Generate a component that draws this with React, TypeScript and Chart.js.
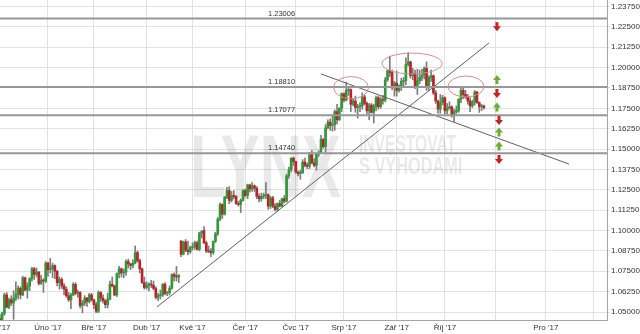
import React, { useEffect, useRef } from "react";
import { Chart, registerables } from "chart.js";

Chart.register(...registerables);

const FONT = "Arial, 'Liberation Sans', sans-serif";

// x axis: weekday (trading-day) index counted from Mon 2 Jan 2017
const monthStarts = [0, 22, 42, 65, 85, 108, 130, 151, 174, 195, 217, 239, 260];
const monthLabels = ["Led '17", "Úno '17", "Bře '17", "Dub '17", "Kvě '17", "Čer '17", "Čvc '17", "Srp '17", "Zář '17", "Říj '17", "", "Pro '17", ""];
const yTicks = [1.05, 1.0625, 1.075, 1.0875, 1.1, 1.1125, 1.125, 1.1375, 1.15, 1.1625, 1.175, 1.1875, 1.2, 1.2125, 1.225, 1.2375];

const X_MIN = 1.077;
const X_MAX = 265.67;
const Y_MIN = 1.0451;
const Y_MAX = 1.24149;

// daily candles [open, high, low, close]
const jan = [
  [1.0520, 1.0530, 1.0455, 1.0460], [1.0460, 1.0485, 1.0340, 1.0405], [1.0405, 1.0500, 1.0390, 1.0490],
  [1.0490, 1.0615, 1.0480, 1.0605], [1.0605, 1.0620, 1.0525, 1.0530], [1.0530, 1.0585, 1.0520, 1.0575],
  [1.0575, 1.0600, 1.0540, 1.0555], [1.0555, 1.0630, 1.0455, 1.0585], [1.0585, 1.0685, 1.0570, 1.0610],
  [1.0610, 1.0660, 1.0580, 1.0645], [1.0645, 1.0655, 1.0580, 1.0605], [1.0605, 1.0720, 1.0600, 1.0710],
  [1.0710, 1.0715, 1.0630, 1.0635], [1.0635, 1.0680, 1.0585, 1.0660], [1.0660, 1.0710, 1.0630, 1.0705],
  [1.0705, 1.0775, 1.0690, 1.0765], [1.0765, 1.0775, 1.0700, 1.0730], [1.0730, 1.0770, 1.0715, 1.0745],
  [1.0745, 1.0750, 1.0665, 1.0675], [1.0675, 1.0725, 1.0670, 1.0695], [1.0695, 1.0705, 1.0620, 1.0690],
  [1.0690, 1.0810, 1.0680, 1.0800],
];
const feb = [
  [1.0800, 1.0805, 1.0720, 1.0760], [1.0760, 1.0830, 1.0740, 1.0765], [1.0765, 1.0800, 1.0710, 1.0785],
  [1.0785, 1.0790, 1.0705, 1.0750], [1.0750, 1.0755, 1.0660, 1.0680], [1.0680, 1.0715, 1.0640, 1.0700],
  [1.0700, 1.0710, 1.0645, 1.0660], [1.0660, 1.0675, 1.0605, 1.0640], [1.0640, 1.0655, 1.0590, 1.0600],
  [1.0600, 1.0620, 1.0565, 1.0575], [1.0575, 1.0615, 1.0520, 1.0605], [1.0605, 1.0680, 1.0600, 1.0670],
  [1.0670, 1.0680, 1.0605, 1.0615], [1.0615, 1.0635, 1.0590, 1.0620], [1.0620, 1.0625, 1.0525, 1.0540],
  [1.0540, 1.0570, 1.0495, 1.0555], [1.0555, 1.0600, 1.0540, 1.0585], [1.0585, 1.0590, 1.0535, 1.0565],
  [1.0565, 1.0615, 1.0555, 1.0605], [1.0605, 1.0615, 1.0565, 1.0575],
];
const mar = [
  [1.0575, 1.0580, 1.0520, 1.0545], [1.0545, 1.0560, 1.0495, 1.0505], [1.0505, 1.0630, 1.0495, 1.0620],
  [1.0620, 1.0625, 1.0565, 1.0585], [1.0585, 1.0605, 1.0555, 1.0570], [1.0570, 1.0575, 1.0525, 1.0545],
  [1.0545, 1.0615, 1.0525, 1.0580], [1.0580, 1.0690, 1.0575, 1.0670], [1.0670, 1.0715, 1.0655, 1.0660],
  [1.0660, 1.0665, 1.0600, 1.0605], [1.0605, 1.0740, 1.0595, 1.0735], [1.0735, 1.0780, 1.0710, 1.0765],
  [1.0765, 1.0770, 1.0715, 1.0740], [1.0740, 1.0765, 1.0710, 1.0745], [1.0745, 1.0820, 1.0725, 1.0810],
  [1.0810, 1.0825, 1.0770, 1.0795], [1.0795, 1.0800, 1.0760, 1.0785], [1.0785, 1.0820, 1.0770, 1.0800],
  [1.0800, 1.0905, 1.0795, 1.0865], [1.0865, 1.0875, 1.0805, 1.0815], [1.0815, 1.0825, 1.0740, 1.0765],
  [1.0765, 1.0770, 1.0675, 1.0680], [1.0680, 1.0715, 1.0640, 1.0650],
];
const apr = [
  [1.0650, 1.0685, 1.0640, 1.0665], [1.0665, 1.0680, 1.0630, 1.0670], [1.0670, 1.0695, 1.0650, 1.0665],
  [1.0665, 1.0690, 1.0635, 1.0645], [1.0645, 1.0655, 1.0580, 1.0590], [1.0590, 1.0615, 1.0570, 1.0600],
  [1.0600, 1.0635, 1.0580, 1.0605], [1.0605, 1.0675, 1.0595, 1.0670], [1.0670, 1.0680, 1.0605, 1.0615],
  [1.0615, 1.0625, 1.0600, 1.0620], [1.0620, 1.0660, 1.0605, 1.0645], [1.0645, 1.0735, 1.0640, 1.0730],
  [1.0730, 1.0740, 1.0690, 1.0720], [1.0720, 1.0780, 1.0690, 1.0715], [1.0715, 1.0730, 1.0680, 1.0725],
  [1.0935, 1.0940, 1.0840, 1.0855], [1.0855, 1.0935, 1.0850, 1.0930], [1.0930, 1.0945, 1.0870, 1.0880],
  [1.0880, 1.0935, 1.0850, 1.0870], [1.0870, 1.0905, 1.0860, 1.0895],
];
const may = [
  [1.0895, 1.0925, 1.0880, 1.0900], [1.0900, 1.0935, 1.0885, 1.0925], [1.0925, 1.0935, 1.0880, 1.0885],
  [1.0885, 1.0990, 1.0875, 1.0985], [1.0985, 1.1000, 1.0955, 1.0995], [1.1000, 1.1025, 1.0920, 1.0925],
  [1.0925, 1.0935, 1.0865, 1.0875], [1.0875, 1.0905, 1.0865, 1.0870], [1.0870, 1.0890, 1.0840, 1.0865],
  [1.0865, 1.0935, 1.0855, 1.0935], [1.0935, 1.0990, 1.0925, 1.0980], [1.0980, 1.1080, 1.0970, 1.1070],
  [1.1070, 1.1170, 1.1060, 1.1160], [1.1160, 1.1165, 1.1075, 1.1100], [1.1100, 1.1210, 1.1095, 1.1205],
  [1.1205, 1.1265, 1.1195, 1.1245], [1.1245, 1.1270, 1.1165, 1.1185], [1.1185, 1.1240, 1.1175, 1.1215],
  [1.1215, 1.1245, 1.1195, 1.1210], [1.1210, 1.1215, 1.1160, 1.1165], [1.1165, 1.1180, 1.1150, 1.1160],
  [1.1160, 1.1195, 1.1110, 1.1185], [1.1185, 1.1250, 1.1180, 1.1245],
];
const jun = [
  [1.1245, 1.1255, 1.1205, 1.1215], [1.1215, 1.1285, 1.1195, 1.1280], [1.1280, 1.1285, 1.1235, 1.1255],
  [1.1255, 1.1295, 1.1240, 1.1275], [1.1275, 1.1280, 1.1240, 1.1260], [1.1260, 1.1270, 1.1195, 1.1210],
  [1.1210, 1.1225, 1.1175, 1.1195], [1.1195, 1.1230, 1.1180, 1.1210], [1.1210, 1.1230, 1.1195, 1.1215],
  [1.1215, 1.1295, 1.1195, 1.1220], [1.1220, 1.1225, 1.1130, 1.1150], [1.1150, 1.1210, 1.1135, 1.1200],
  [1.1200, 1.1210, 1.1140, 1.1150], [1.1150, 1.1165, 1.1120, 1.1130], [1.1130, 1.1170, 1.1120, 1.1165],
  [1.1165, 1.1185, 1.1145, 1.1150], [1.1150, 1.1200, 1.1145, 1.1195], [1.1195, 1.1215, 1.1170, 1.1180],
  [1.1180, 1.1345, 1.1175, 1.1335], [1.1335, 1.1390, 1.1320, 1.1375], [1.1375, 1.1445, 1.1360, 1.1445],
  [1.1445, 1.1450, 1.1400, 1.1425],
];
const jul = [
  [1.1425, 1.1425, 1.1350, 1.1360], [1.1360, 1.1365, 1.1335, 1.1350], [1.1350, 1.1370, 1.1315, 1.1355],
  [1.1355, 1.1435, 1.1350, 1.1420], [1.1420, 1.1445, 1.1390, 1.1400], [1.1400, 1.1415, 1.1380, 1.1395],
  [1.1395, 1.1480, 1.1380, 1.1465], [1.1465, 1.1490, 1.1410, 1.1415], [1.1415, 1.1440, 1.1390, 1.1400],
  [1.1400, 1.1475, 1.1370, 1.1470], [1.1470, 1.1490, 1.1455, 1.1475], [1.1475, 1.1585, 1.1475, 1.1560],
  [1.1560, 1.1565, 1.1505, 1.1515], [1.1515, 1.1650, 1.1480, 1.1630], [1.1630, 1.1680, 1.1625, 1.1665],
  [1.1665, 1.1685, 1.1615, 1.1645], [1.1645, 1.1710, 1.1610, 1.1650], [1.1650, 1.1740, 1.1615, 1.1730],
  [1.1730, 1.1775, 1.1655, 1.1680], [1.1680, 1.1755, 1.1675, 1.1750], [1.1750, 1.1845, 1.1730, 1.1840],
];
const aug = [
  [1.1840, 1.1845, 1.1790, 1.1800], [1.1800, 1.1910, 1.1795, 1.1860], [1.1860, 1.1880, 1.1830, 1.1865],
  [1.1865, 1.1870, 1.1730, 1.1775], [1.1775, 1.1810, 1.1765, 1.1795], [1.1795, 1.1825, 1.1725, 1.1755],
  [1.1755, 1.1775, 1.1690, 1.1760], [1.1760, 1.1785, 1.1730, 1.1765], [1.1765, 1.1845, 1.1745, 1.1820],
  [1.1820, 1.1830, 1.1770, 1.1780], [1.1780, 1.1790, 1.1715, 1.1735], [1.1735, 1.1780, 1.1680, 1.1770],
  [1.1770, 1.1780, 1.1720, 1.1725], [1.1725, 1.1775, 1.1660, 1.1760], [1.1760, 1.1825, 1.1735, 1.1815],
  [1.1815, 1.1825, 1.1745, 1.1760], [1.1760, 1.1820, 1.1750, 1.1805], [1.1805, 1.1830, 1.1775, 1.1800],
  [1.1800, 1.1940, 1.1790, 1.1925], [1.1925, 1.1985, 1.1915, 1.1980], [1.1980, 1.2070, 1.1945, 1.1970],
  [1.1970, 1.1985, 1.1865, 1.1885], [1.1885, 1.1915, 1.1825, 1.1905],
];
const sep = [
  [1.1905, 1.1980, 1.1825, 1.1860], [1.1860, 1.1895, 1.1850, 1.1890], [1.1890, 1.1935, 1.1860, 1.1915],
  [1.1915, 1.1940, 1.1880, 1.1920], [1.1920, 1.2060, 1.1895, 1.2020], [1.2020, 1.2092, 1.2010, 1.2035],
  [1.2035, 1.2040, 1.1935, 1.1950], [1.1950, 1.1995, 1.1925, 1.1965], [1.1965, 1.1985, 1.1870, 1.1885],
  [1.1885, 1.1990, 1.1835, 1.1920], [1.1920, 1.1985, 1.1900, 1.1940], [1.1940, 1.1990, 1.1920, 1.1955],
  [1.1955, 1.2005, 1.1930, 1.1995], [1.1995, 1.2035, 1.1860, 1.1890], [1.1890, 1.1950, 1.1860, 1.1940],
  [1.1940, 1.1985, 1.1915, 1.1950], [1.1950, 1.1955, 1.1835, 1.1845], [1.1845, 1.1860, 1.1780, 1.1795],
  [1.1795, 1.1800, 1.1720, 1.1745], [1.1745, 1.1835, 1.1720, 1.1785], [1.1785, 1.1830, 1.1770, 1.1815],
];
const oct = [
  [1.1815, 1.1820, 1.1715, 1.1735], [1.1735, 1.1780, 1.1715, 1.1750], [1.1750, 1.1790, 1.1745, 1.1760],
  [1.1760, 1.1765, 1.1695, 1.1710], [1.1710, 1.1745, 1.1670, 1.1730], [1.1730, 1.1765, 1.1715, 1.1735],
  [1.1735, 1.1810, 1.1725, 1.1805], [1.1805, 1.1875, 1.1785, 1.1860], [1.1860, 1.1880, 1.1810, 1.1835],
  [1.1835, 1.1860, 1.1810, 1.1820], [1.1820, 1.1835, 1.1775, 1.1795], [1.1795, 1.1815, 1.1730, 1.1765],
  [1.1765, 1.1800, 1.1755, 1.1790], [1.1790, 1.1860, 1.1770, 1.1850], [1.1850, 1.1855, 1.1780, 1.1785],
  [1.1785, 1.1790, 1.1725, 1.1760], [1.1760, 1.1775, 1.1735, 1.1765], [1.1765, 1.1770, 1.1745, 1.1755],
];
const months = [jan, feb, mar, apr, may, jun, jul, aug, sep, oct];

// horizontal levels
const levels = [1.23006, 1.1881, 1.17077, 1.1474];
const levelLabelAt = 129.7;

// trend lines: [x1, y1, x2, y2]
const trendUp = [69.5, 1.0531, 214.2, 1.2151];
const trendDown = [141.0, 1.1961, 249.1, 1.1408];

// ellipses: [cx, cy, rx, ry]
const ellipses = [
  [154.1, 1.1877, 7.6, 0.0068],
  [180.7, 1.2025, 13.1, 0.0064],
  [204.2, 1.1884, 7.85, 0.0064],
];

// arrows
const arrowX = [217.7, 217.7, 217.7, 217.7, 218.6, 218.6, 218.6, 218.6];
const arrowY = [1.2251, 1.1927, 1.1841, 1.1758, 1.1675, 1.1605, 1.1519, 1.1436];
const arrowDir = ["down", "up", "down", "up", "down", "up", "up", "down"];

const GREEN = "#2f9a35";
const RED = "#bb2326";
const WICK = "#7d7d7d";

type Candle = { x: number; o: number; h: number; l: number; c: number };

function buildCandles(): Candle[] {
  const out: Candle[] = [];
  months.forEach((m, mi) => {
    m.forEach((row, i) => {
      out.push({ x: monthStarts[mi] + i, o: row[0], h: row[1], l: row[2], c: row[3] });
    });
  });
  return out;
}

function drawScaledText(ctx: CanvasRenderingContext2D, text: string, font: string, x: number, y: number, sx: number) {
  ctx.save();
  ctx.translate(x, y);
  ctx.scale(sx, 1);
  ctx.font = font;
  ctx.fillText(text, 0, 0);
  ctx.restore();
}

const overlayPlugin = {
  id: "overlay",
  beforeDatasetsDraw(chart: any) {
    const { ctx, chartArea } = chart;
    ctx.save();
    ctx.beginPath();
    ctx.rect(chartArea.left, chartArea.top, chartArea.right - chartArea.left, chartArea.bottom - chartArea.top);
    ctx.clip();
    ctx.fillStyle = "rgba(0,0,0,0.085)";
    ctx.textAlign = "left";
    ctx.textBaseline = "alphabetic";
    drawScaledText(ctx, "LYNX", "bold 89px " + FONT, 190, 197, 0.66);
    drawScaledText(ctx, "INVESTOVAT", "bold 24px " + FONT, 359, 152, 0.65);
    drawScaledText(ctx, "S VÝHODAMI", "bold 24px " + FONT, 359, 174, 0.68);
    ctx.restore();
  },
  afterDatasetsDraw(chart: any) {
    const { ctx, chartArea } = chart;
    const xs = chart.scales.x;
    const ys = chart.scales.y;
    ctx.save();
    ctx.beginPath();
    ctx.rect(chartArea.left, chartArea.top, chartArea.right - chartArea.left, chartArea.bottom - chartArea.top);
    ctx.clip();

    // ellipses
    ctx.strokeStyle = "#d98a8a";
    ctx.lineWidth = 1;
    ellipses.forEach(([cx, cy, rx, ry]) => {
      const px = xs.getPixelForValue(cx);
      const py = ys.getPixelForValue(cy);
      const prx = Math.abs(xs.getPixelForValue(cx + rx) - px);
      const pry = Math.abs(ys.getPixelForValue(cy + ry) - py);
      ctx.beginPath();
      ctx.ellipse(px, py, prx, pry, 0, 0, Math.PI * 2);
      ctx.stroke();
    });

    // level labels
    ctx.fillStyle = "#333";
    ctx.font = "7.5px " + FONT;
    ctx.textAlign = "right";
    ctx.textBaseline = "alphabetic";
    const lx = xs.getPixelForValue(levelLabelAt);
    levels.forEach((lv) => {
      ctx.fillText(lv.toFixed(5), lx, ys.getPixelForValue(lv) - 3);
    });

    // arrows
    arrowX.forEach((ax, i) => {
      const px = xs.getPixelForValue(ax);
      const py = ys.getPixelForValue(arrowY[i]);
      const up = arrowDir[i] === "up";
      ctx.fillStyle = up ? "#6fae33" : "#cc1f1f";
      const s = up ? -1 : 1;
      ctx.beginPath();
      ctx.rect(px - 1.5, up ? py : py - 4.5, 3, 4.5);
      ctx.fill();
      ctx.beginPath();
      ctx.moveTo(px - 4, py - s * 0.5);
      ctx.lineTo(px + 4, py - s * 0.5);
      ctx.lineTo(px, py + s * 4.5);
      ctx.closePath();
      ctx.fill();
    });
    ctx.restore();
  },
};

export default function App() {
  const ref = useRef<HTMLCanvasElement | null>(null);

  useEffect(() => {
    if (!ref.current) return;
    const candles = buildCandles();
    const lineDs = (pts: { x: number; y: number }[], color: string, width: number) => ({
      type: "line" as const,
      data: pts,
      borderColor: color,
      borderWidth: width,
      pointRadius: 0,
      fill: false,
      tension: 0,
      order: 0,
    });

    const chart = new Chart(ref.current, {
      type: "bar",
      data: {
        datasets: [
          {
            type: "bar",
            data: candles.map((c) => ({ x: c.x, y: [c.o, c.c] })) as any,
            backgroundColor: candles.map((c) => (c.c >= c.o ? GREEN : RED)),
            barThickness: 2,
            minBarLength: 1,
            grouped: false,
            borderWidth: 0,
            order: 1,
          },
          {
            type: "bar",
            data: candles.map((c) => ({ x: c.x, y: [c.l, c.h] })) as any,
            backgroundColor: WICK,
            barThickness: 1,
            grouped: false,
            borderWidth: 0,
            order: 2,
          },
          ...levels.map((lv) => lineDs([{ x: X_MIN, y: lv }, { x: X_MAX, y: lv }], "#979797", 2)),
          lineDs([{ x: trendUp[0], y: trendUp[1] }, { x: trendUp[2], y: trendUp[3] }], "#606060", 1),
          lineDs([{ x: trendDown[0], y: trendDown[1] }, { x: trendDown[2], y: trendDown[3] }], "#606060", 1),
        ] as any,
      },
      options: {
        animation: false,
        responsive: false,
        maintainAspectRatio: false,
        devicePixelRatio: 1,
        layout: { padding: 0 },
        plugins: { legend: { display: false }, tooltip: { enabled: false } },
        scales: {
          x: {
            type: "linear",
            min: X_MIN,
            max: X_MAX,
            offset: false,
            grid: { color: "#e2e2e2", drawTicks: false, offset: false, lineWidth: 1 },
            border: { display: true, color: "#a6a6a6" },
            ticks: {
              autoSkip: false,
              maxRotation: 0,
              padding: 3,
              color: "#333",
              font: { size: 8, family: FONT },
              callback: (_v: any, i: number) => monthLabels[i],
            },
            afterBuildTicks: (s: any) => {
              s.ticks = monthStarts.map((v) => ({ value: v }));
            },
            afterFit: (s: any) => {
              s.height = 14;
              s.paddingLeft = 0;
              s.paddingRight = 0;
            },
          },
          y: {
            type: "linear",
            position: "right",
            min: Y_MIN,
            max: Y_MAX,
            grid: { color: "#e2e2e2", drawTicks: true, tickLength: 3 },
            border: { display: true, color: "#a6a6a6" },
            ticks: {
              padding: 1,
              color: "#333",
              font: { size: 8, family: FONT },
              callback: (v: any) => Number(v).toFixed(5),
            },
            afterBuildTicks: (s: any) => {
              s.ticks = yTicks.map((v) => ({ value: v }));
            },
            afterFit: (s: any) => {
              s.width = 33;
              s.paddingTop = 0;
              s.paddingBottom = 0;
            },
          },
        },
      } as any,
      plugins: [overlayPlugin],
    });
    return () => chart.destroy();
  }, []);

  return (
    <div style={{ position: "fixed", left: 0, top: 0, width: 640, height: 334, background: "#fff" }}>
      <canvas ref={ref} width={640} height={334} style={{ display: "block" }} />
    </div>
  );
}
